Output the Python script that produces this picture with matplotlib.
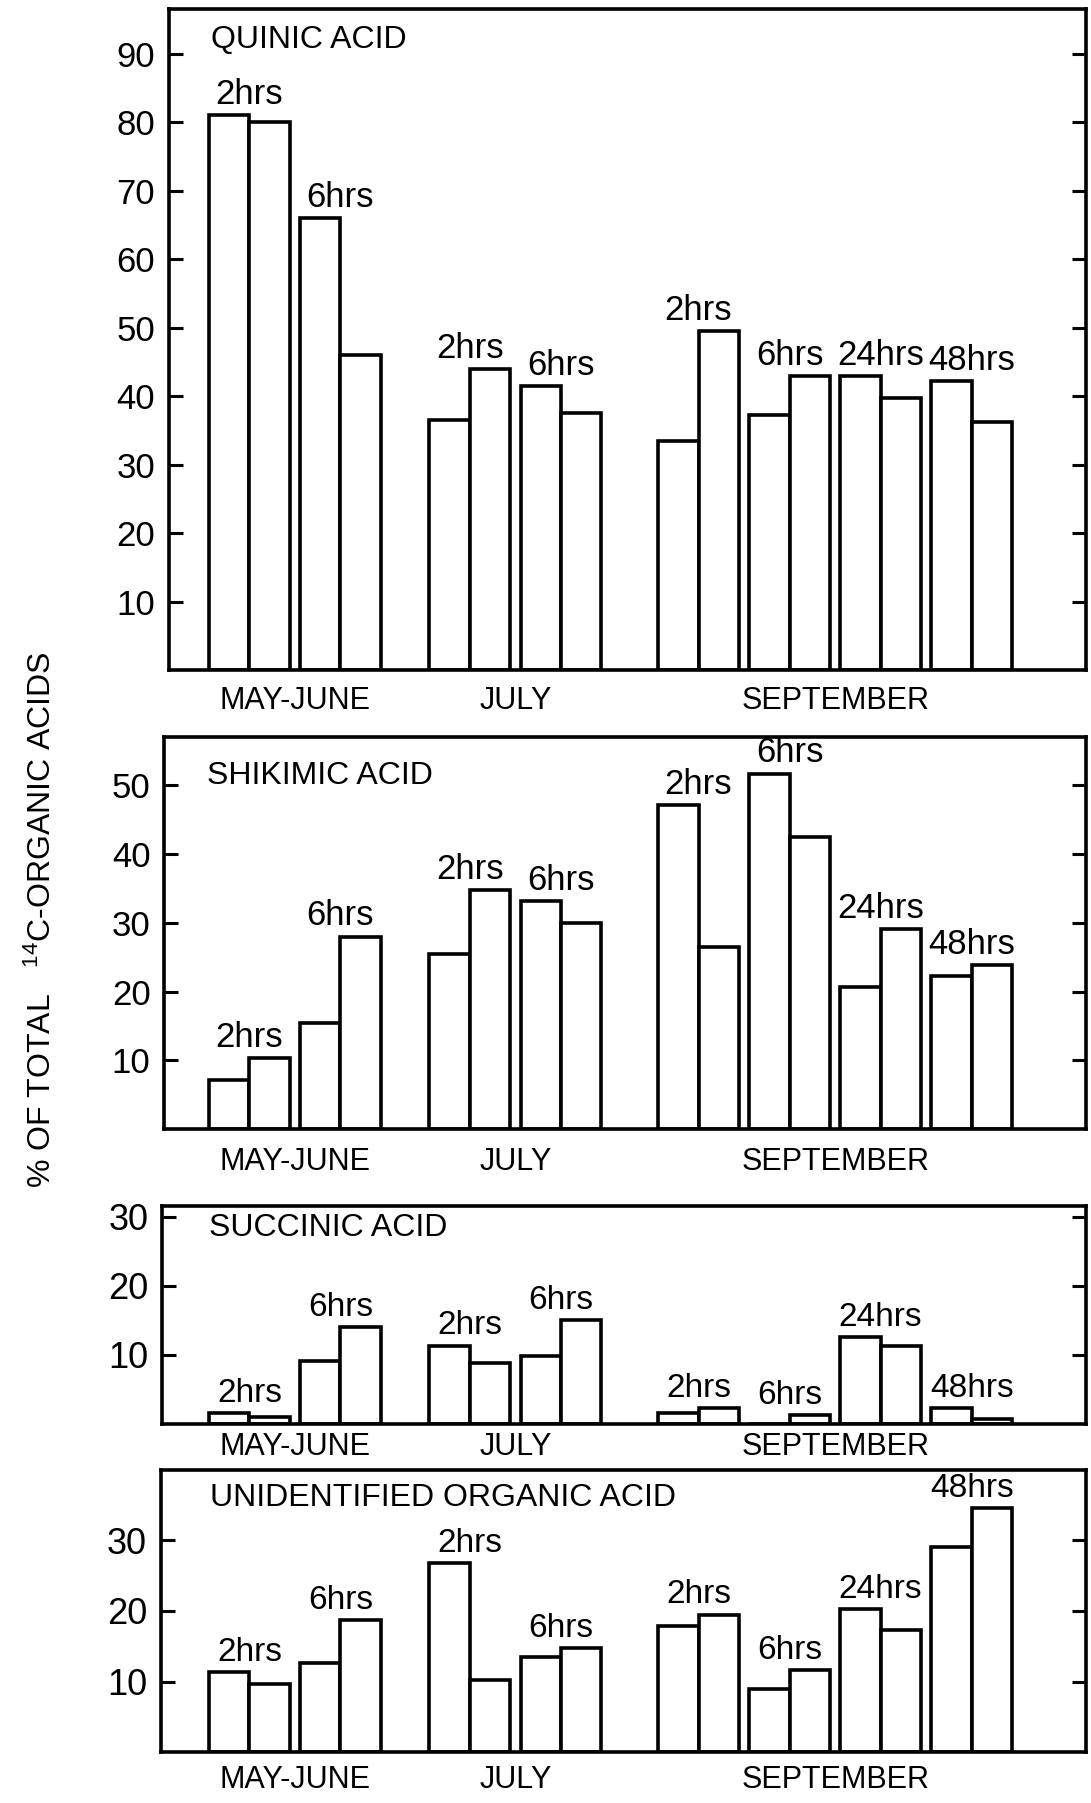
import matplotlib
matplotlib.use('Agg')
import matplotlib.pyplot as plt

plt.rcParams['font.family'] = ['Liberation Sans', 'DejaVu Sans']
plt.rcParams['mathtext.default'] = 'regular'

months = ['MAY-JUNE', 'JULY', 'SEPTEMBER']
hour_tags = [['2hrs', '6hrs'], ['2hrs', '6hrs'], ['2hrs', '6hrs', '24hrs', '48hrs']]

# % of total 14C in organic acids, two bars per sampling time
quinic_mj = [81.0, 80.0, 66.0, 46.0]
quinic_jul = [36.5, 44.0, 41.5, 37.5]
quinic_sep = [33.5, 49.5, 37.3, 43.0, 43.0, 39.7, 42.2, 36.3]

shikimic_mj = [7.1, 10.4, 15.4, 28.0]
shikimic_jul = [25.5, 34.7, 33.2, 29.9]
shikimic_sep = [47.1, 26.5, 51.7, 42.5, 20.7, 29.1, 22.3, 23.8]

succinic_mj = [1.5, 1.0, 9.0, 14.0]
succinic_jul = [11.3, 8.8, 9.8, 15.0]
succinic_sep = [1.5, 2.3, 0.0, 1.2, 12.5, 11.3, 2.3, 0.7]

unident_mj = [11.4, 9.7, 12.6, 18.7]
unident_jul = [26.8, 10.2, 13.5, 14.7]
unident_sep = [17.9, 19.5, 9.0, 11.6, 20.3, 17.3, 29.0, 34.5]

titles = ['QUINIC ACID', 'SHIKIMIC ACID', 'SUCCINIC ACID', 'UNIDENTIFIED ORGANIC ACID']
yticks = [range(10, 100, 10), range(10, 60, 10), [10, 20, 30], [10, 20, 30]]
ylims = [96.5, 57, 31.5, 40]

panels = [
    (quinic_mj, quinic_jul, quinic_sep),
    (shikimic_mj, shikimic_jul, shikimic_sep),
    (succinic_mj, succinic_jul, succinic_sep),
    (unident_mj, unident_jul, unident_sep),
]

# layout (pixel rows of each panel on a 1568 high page)
W, H = 949.0, 1568.0
rows = [(8, 583), (641, 982), (1049, 1238), (1278, 1524)]
lefts_px = [147, 143, 141, 140]
right_px = 945
title_off = [(30, 11.5), (31, 17), (34, 5), (35, 10)]
month_off = [11.5, 12.5, 6, 9]
title_size = [23, 23, 23, 23]
hour_size = [25, 25, 24, 24]
month_size = [22, 22, 22, 22]
tick_size = [25, 25, 26, 26]

group_x0 = [1.1, 6.55, 12.2]
pair_gap = 0.25

fig = plt.figure(figsize=(10.91, 18.03), dpi=100)

for i, data in enumerate(panels):
    top, bot = rows[i]
    lp = lefts_px[i]
    ax = fig.add_axes([lp / W, 1 - bot / H, (right_px - lp) / W, (bot - top) / H])
    # keep bar columns lined up across panels
    xmin = -(143 - lp) / 35.2
    xmax = xmin + (right_px - lp) / 35.2
    for g, vals in enumerate(data):
        lefts = []
        x = group_x0[g]
        for p in range(len(vals) // 2):
            lefts += [x, x + 1]
            x += 2 + pair_gap
        ax.bar(lefts, vals, width=1.0, align='edge', facecolor='white',
               edgecolor='black', linewidth=2.6)
        # hour labels above each pair
        for p, tag in enumerate(hour_tags[g]):
            cx = lefts[2 * p] + 1.0
            ymax = max(vals[2 * p], vals[2 * p + 1])
            ax.annotate(tag, xy=(cx, ymax), xytext=(0, 8), textcoords='offset points',
                        ha='center', va='baseline', fontsize=hour_size[i],
                        annotation_clip=False)
        gc = (lefts[0] + lefts[-1] + 1.0) / 2
        ax.annotate(months[g], xy=(gc, 0), xycoords=('data', 'axes fraction'),
                    xytext=(0, -month_off[i]), textcoords='offset points',
                    ha='center', va='top', fontsize=month_size[i],
                    annotation_clip=False)

    ax.annotate(titles[i], xy=(0, 1), xycoords='axes fraction',
                xytext=(title_off[i][0], -title_off[i][1]), textcoords='offset points',
                ha='left', va='top', fontsize=title_size[i])

    ax.set_xlim(xmin, xmax)
    ax.set_ylim(0, ylims[i])
    ax.set_xticks([])
    ax.set_yticks(list(yticks[i]))
    ax.tick_params(axis='y', direction='in', length=10, width=2.2, right=True,
                   labelright=False, pad=10, labelsize=tick_size[i])
    for sp in ax.spines.values():
        sp.set_linewidth(2.6)

fig.text(0.039, 0.49, r'% OF TOTAL   $^{14}$C-ORGANIC ACIDS', rotation=90,
         ha='center', va='center', fontsize=23)

fig.savefig('out.png', dpi=100, facecolor='white')
